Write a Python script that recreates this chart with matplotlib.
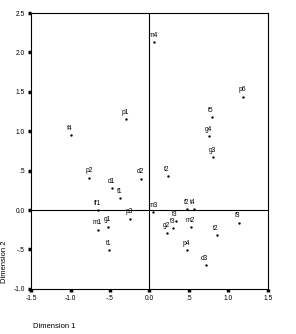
import matplotlib
matplotlib.use('Agg')
import matplotlib.pyplot as plt

# category points
labels = ['m4', 'p6', 't5', 'g4', 'g3', 'p1', 'f4', 'p2', 'd2', 'd1', 'f1', 'ff1',
          'p3', 'm1', 'g1', 't1', 't2', 'm3', 'f2', 't4', 't3', 't3', 'g2', 'm2',
          't2', 'f3', 'p4', 'd3']
dim1 = [0.06, 1.19, 0.79, 0.76, 0.81, -0.30, -1.00, -0.76, -0.11, -0.47, -0.37, -0.65,
        -0.25, -0.65, -0.53, -0.51, 0.23, 0.05, 0.48, 0.56, 0.33, 0.30, 0.22, 0.52,
        0.85, 1.13, 0.48, 0.71]
dim2 = [2.13, 1.44, 1.18, 0.94, 0.67, 1.15, 0.95, 0.41, 0.40, 0.28, 0.15, 0.0,
        -0.11, -0.25, -0.21, -0.51, 0.43, -0.03, 0.01, 0.01, -0.14, -0.23, -0.29, -0.22,
        -0.32, -0.16, -0.51, -0.70]

xticks = [-1.5, -1.0, -0.5, 0.0, 0.5, 1.0, 1.5]
xticklabels = ['-1.5', '-1.0', '-.5', '0.0', '.5', '1.0', '1.5']
yticks = [-1.0, -0.5, 0.0, 0.5, 1.0, 1.5, 2.0, 2.5]
yticklabels = ['-1.0', '-.5', '0.0', '.5', '1.0', '1.5', '2.0', '2.5']

plt.rcParams['font.family'] = ['Liberation Sans', 'DejaVu Sans']

fig = plt.figure(figsize=(2.96, 3.34), dpi=100)
ax = fig.add_axes([0.105, 0.135, 0.8, 0.826])

ax.axhline(0, color='black', lw=0.8)
ax.axvline(0, color='black', lw=0.8)
ax.scatter(dim1, dim2, s=0.5, color='black', zorder=3)
for lab, x, y in zip(labels, dim1, dim2):
    ax.annotate(lab, (x, y), xytext=(-0.5, 2.5), textcoords='offset points',
                ha='center', va='bottom', fontsize=4.8)

ax.set_xlim(-1.5, 1.5)
ax.set_ylim(-1.0, 2.5)
ax.set_xticks(xticks)
ax.set_xticklabels(xticklabels)
ax.set_yticks(yticks)
ax.set_yticklabels(yticklabels)
ax.tick_params(direction='out', length=2.5, width=2.5, labelsize=4.8, pad=2)
for sp in ax.spines.values():
    sp.set_linewidth(0.8)

fig.text(33 / 296, 1 - 326 / 334, 'Dimension 1', fontsize=5.5, ha='left', va='center')
fig.text(5 / 296, 1 - 262 / 334, 'Dimension 2', fontsize=5.5, rotation=90,
         ha='center', va='center')

fig.savefig('out.png', dpi=100)
